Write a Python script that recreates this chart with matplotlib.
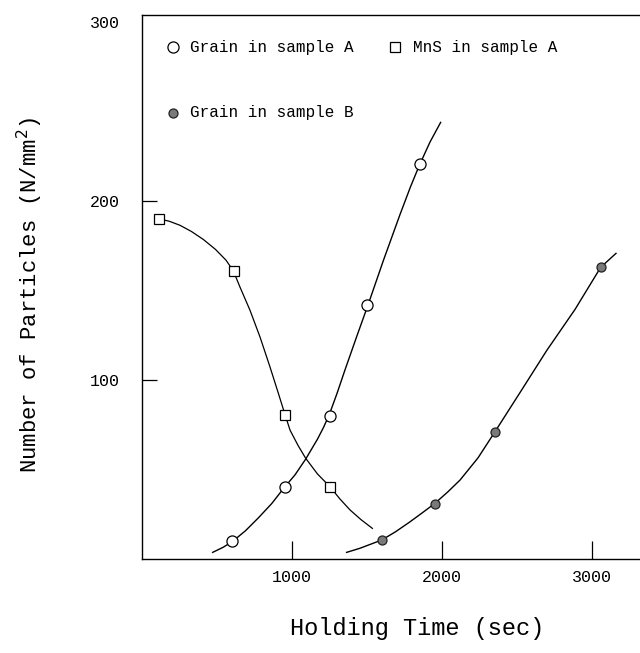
import matplotlib
matplotlib.use("Agg")
import matplotlib.pyplot as plt

# measured points (holding time in sec, particles per mm^2)
grain_a_t = [600, 950, 1250, 1500, 1850]
grain_a_n = [10, 40, 80, 142, 221]
mns_a_t = [115, 610, 950, 1250]
mns_a_n = [190, 161, 80.5, 40.4]
grain_b_t = [1600, 1950, 2355, 3058]
grain_b_n = [10.5, 31, 71, 163.3]

# hand drawn fit curves
curve_a_t = [471, 540, 605, 690, 776, 865, 949, 1020, 1091, 1170, 1210, 1249, 1300, 1353,
             1430, 1509, 1610, 1720, 1790, 1849, 1920, 1991]
curve_a_n = [3.7, 6.5, 9.9, 15.8, 23.0, 31.0, 40.0, 47.0, 55.8, 67.0, 73.5, 80.8, 92.5,
             105.6, 124.0, 142.5, 167.0, 192.5, 208.0, 220.0, 233.0, 244.0]
curve_mns_t = [115, 180, 253, 330, 410, 490, 560, 609, 653, 720, 787, 853, 909, 953,
               987, 1040, 1091, 1170, 1253, 1320, 1387, 1460, 1536]
curve_mns_n = [190, 188.8, 186.5, 183.0, 178.5, 173.0, 167.0, 161.0, 152.0, 139.0, 124.0,
               107.4, 92.6, 80.8, 72.0, 63.5, 56.3, 47.5, 40.4, 33.5, 27.4, 22.0, 17.1]
curve_b_t = [1364, 1453, 1598, 1690, 1787, 1870, 1953, 2040, 2120, 2240, 2353, 2520,
             2698, 2887, 3058, 3160]
curve_b_n = [3.7, 6.0, 10.6, 15.2, 20.8, 25.9, 31.1, 37.6, 44.1, 56.5, 71.1, 93.0,
             116.5, 139.5, 163.0, 170.8]

x_ticks = [1000, 2000, 3000]
y_ticks = [100, 200, 300]

FONT = "Liberation Mono"

fig = plt.figure(figsize=(6.4, 6.53), dpi=100)
ax = fig.add_axes([142 / 640, (653 - 559) / 653, 498 / 640, 544 / 653])

ax.plot(curve_a_t, curve_a_n, color="black", lw=1.0, zorder=2)
ax.plot(curve_mns_t, curve_mns_n, color="black", lw=0.9, zorder=2)
ax.plot(curve_b_t, curve_b_n, color="black", lw=1.0, zorder=2)

ax.plot(grain_a_t, grain_a_n, "o", ms=8, mfc="white", mec="black", mew=0.9, zorder=3)
ax.plot(mns_a_t, mns_a_n, "s", ms=7, mfc="white", mec="black", mew=0.9, zorder=3)
ax.plot(grain_b_t, grain_b_n, "o", ms=6.5, mfc="#7a7a7a", mec="#222222", mew=0.9, zorder=3)

ax.set_xlim(0, 3320)
ax.set_ylim(0, 304)
ax.set_xticks(x_ticks)
ax.set_yticks(y_ticks)
ax.set_xticklabels([str(v) for v in x_ticks], fontfamily=FONT, fontsize=12)
ax.set_yticklabels([str(v) for v in y_ticks], fontfamily=FONT, fontsize=12)
ax.tick_params(axis="x", direction="in", length=13, width=0.9, pad=8)
ax.tick_params(axis="y", direction="in", length=11, width=0.9, pad=16)
# the 300 tick sits on the top frame, only its label shows
ax.yaxis.get_major_ticks()[2].tick1line.set_visible(False)

ax.spines["right"].set_visible(False)
for s in ["left", "top", "bottom"]:
    ax.spines[s].set_linewidth(1.0)

# legend, laid out by hand like the original
ax.plot([0.062], [0.941], "o", ms=8, mfc="white", mec="black", mew=0.9,
        transform=ax.transAxes, clip_on=False)
ax.text(0.096, 0.941, "Grain in sample A", transform=ax.transAxes,
        fontfamily=FONT, fontsize=11.5, va="center", ha="left")
ax.plot([0.508], [0.941], "s", ms=7, mfc="white", mec="black", mew=0.9,
        transform=ax.transAxes, clip_on=False)
ax.text(0.544, 0.941, "MnS in sample A", transform=ax.transAxes,
        fontfamily=FONT, fontsize=11.5, va="center", ha="left")
ax.plot([0.062], [0.820], "o", ms=6.5, mfc="#7a7a7a", mec="#222222", mew=0.9,
        transform=ax.transAxes, clip_on=False)
ax.text(0.096, 0.820, "Grain in sample B", transform=ax.transAxes,
        fontfamily=FONT, fontsize=11.5, va="center", ha="left")

fig.text(417 / 640, 1 - 628 / 653, "Holding Time (sec)", fontfamily=FONT,
         fontsize=17, ha="center", va="center")
fig.text(30 / 640, 1 - 295 / 653, "Number of Particles (N/mm$^2$)", fontfamily=FONT,
         fontsize=16, ha="center", va="center", rotation=90)

fig.savefig("out.png", dpi=100)
